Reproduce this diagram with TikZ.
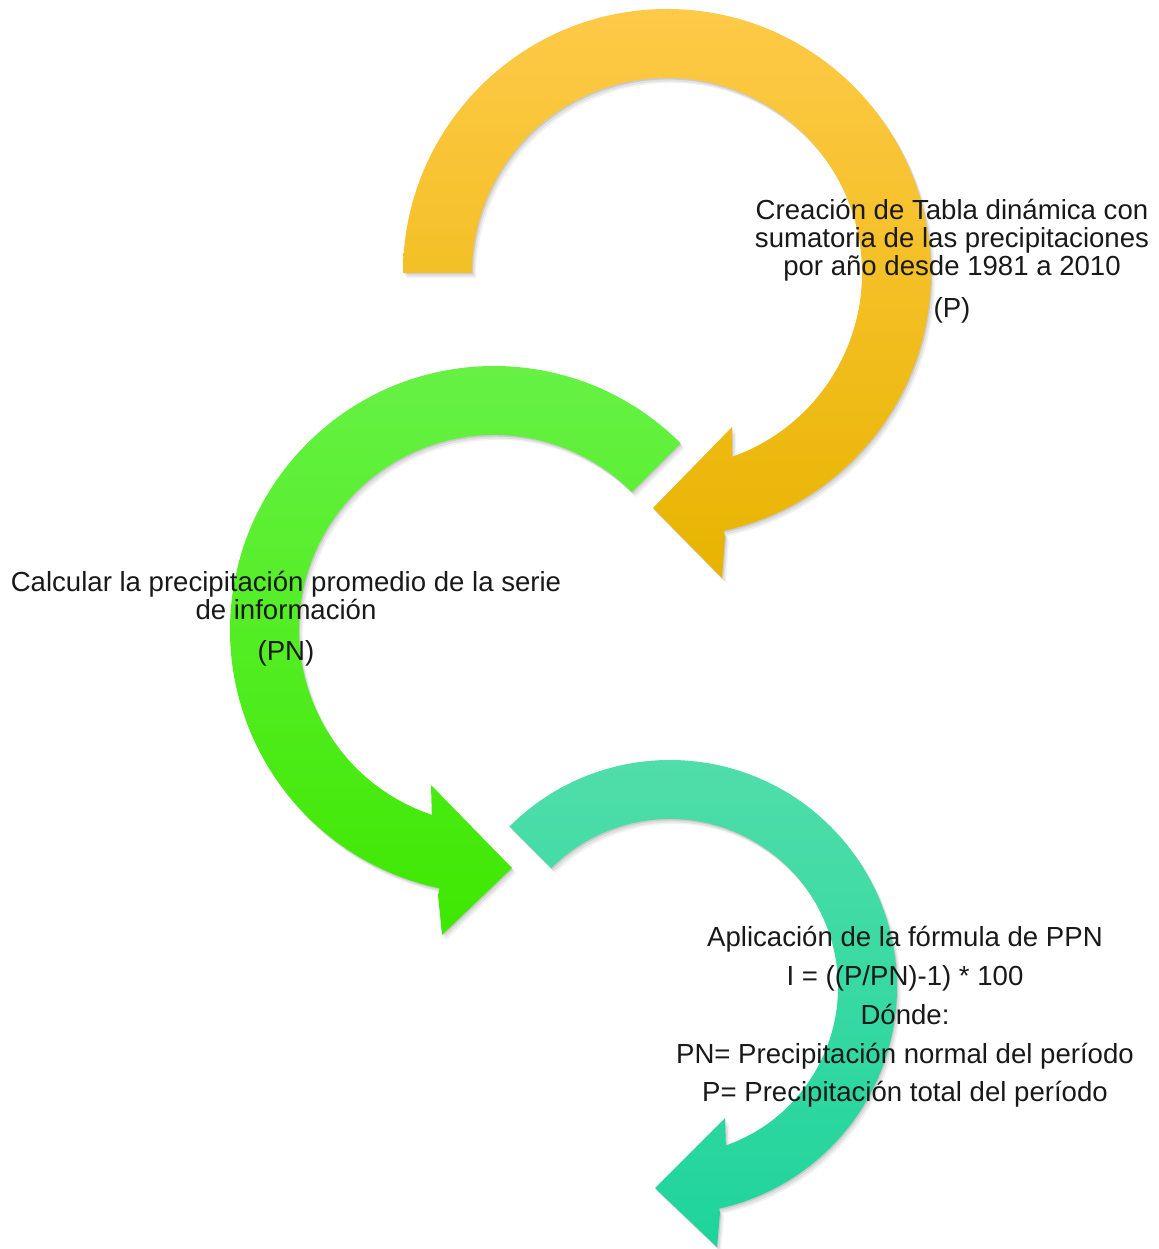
\documentclass[tikz,border=0pt]{standalone}
\usepackage{fontspec}
\setmainfont{Liberation Sans}
\definecolor{ytop}{RGB}{254,202,72}
\definecolor{ymid}{RGB}{255,192,0}
\definecolor{ybot}{RGB}{232,180,0}
\definecolor{gtop}{RGB}{104,242,72}
\definecolor{gbot}{RGB}{62,232,0}
\definecolor{ttop}{RGB}{82,222,170}
\definecolor{tbot}{RGB}{30,212,155}
\definecolor{ink}{RGB}{25,25,25}

% circular arrow outlines: outer arc, arrow head, inner arc back to the tail
\newcommand\yellowarrow{([shift={(667,976)}]180:264) arc[start angle=180,end angle=-77.6,radius=264]
  -- (725,712) -- (722,671) -- (653,741) -- (732,822) -- (732,786)
  -- ([shift={(667,976)}]-71.1:195) arc[start angle=-71.1,end angle=180,radius=195] -- cycle}
\newcommand\greenarrow{([shift={(494,619)}]45:264) arc[start angle=45,end angle=258.1,radius=264]
  -- (438,354) -- (442,314) -- (512,381) -- (431,464) -- (432,427)
  -- ([shift={(494,619)}]252.1:195) arc[start angle=252.1,end angle=45,radius=195] -- cycle}
\newcommand\tealarrow{([shift={(670,262)}]135:227) arc[start angle=135,end angle=-77.5,radius=227]
  -- (720,36) -- (717,2) -- (655,61) -- (725,131) -- (726,99)
  -- ([shift={(670,262)}]-71:168) arc[start angle=-71,end angle=135,radius=168] -- cycle}

\tikzset{
  softshadow/.style={fill=black, opacity=#1},
  txt/.style={align=center, inner sep=0pt, text=ink},
}

\begin{document}
\begin{tikzpicture}[x=0.02cm, y=0.02cm]
\useasboundingbox (0,0) rectangle (1159,1249);

% soft drop shadows under the three arrows
\foreach \dx/\dy/\op in {1/-1.5/0.10, 2.5/-3.5/0.07, 4/-5/0.05} {
  \fill[softshadow=\op, shift={(\dx,\dy)}] \yellowarrow;
  \fill[softshadow=\op, shift={(\dx,\dy)}] \greenarrow;
  \fill[softshadow=\op, shift={(\dx,\dy)}] \tealarrow;
}

% the arrows themselves
\shade[top color=ytop, middle color=ymid, bottom color=ybot] \yellowarrow;
\shade[top color=gtop, bottom color=gbot] \greenarrow;
\shade[top color=ttop, bottom color=tbot] \tealarrow;

% step texts
\node[txt, font=\fontsize{15.7}{15.9}\selectfont] (t1) at (952,988)
  {Creación de Tabla dinámica con\\sumatoria de las precipitaciones\\por año desde 1981 a 2010\\[7.9pt](P)};
\node[txt, font=\fontsize{15.7}{15.9}\selectfont] (t2) at (286,630.5)
  {Calcular la precipitación promedio de la serie\\de información\\[7.4pt](PN)};
\node[txt, font=\fontsize{15.7}{22.1}\selectfont] (t3) at (905,232)
  {Aplicación de la fórmula de PPN\\I = ((P/PN)-1) * 100\\Dónde:\\PN= Precipitación normal del período\\P= Precipitación total del período};
\end{tikzpicture}
\end{document}
